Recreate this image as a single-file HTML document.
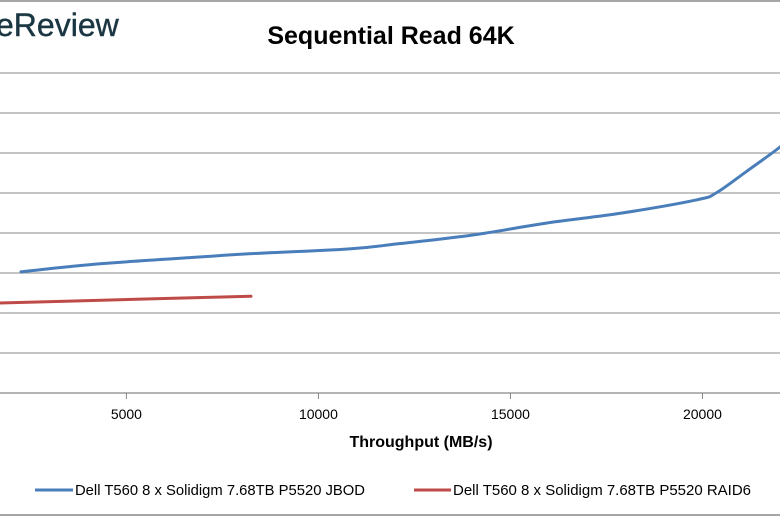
<!DOCTYPE html>
<html><head><meta charset="utf-8"><style>
html,body{margin:0;padding:0;background:#fff}
svg{display:block}
text{font-family:"Liberation Sans",sans-serif}
</style></head><body>
<svg id="chart" width="780" height="516" viewBox="0 0 780 516">
<rect x="0" y="0" width="780" height="516" fill="#fff"/>
<line x1="0" y1="1" x2="780" y2="1" stroke="#a6a6a6" stroke-width="2"/>
<line x1="0" y1="515" x2="780" y2="515" stroke="#a6a6a6" stroke-width="2"/>
<text x="-4" y="36" font-size="32" fill="#1a3642" stroke="#1a3642" stroke-width="0.4">eReview</text>
<text x="391" y="44" font-size="25" font-weight="bold" text-anchor="middle" fill="#000">Sequential Read 64K</text>
<g id="grid"></g>
<g id="xticks"></g>
<g id="series"></g>
<text x="421" y="447" font-size="16" font-weight="bold" text-anchor="middle">Throughput  (MB/s)</text>
<g>
<g>
<line x1="35" y1="490" x2="73" y2="490" stroke="#4a7ebb" stroke-width="3"/>
<text x="75" y="495" font-size="15" textLength="290" lengthAdjust="spacingAndGlyphs">Dell T560 8 x Solidigm 7.68TB P5520 JBOD</text>
</g>
<g>
<line x1="414" y1="490" x2="451" y2="490" stroke="#be4b48" stroke-width="3"/>
<text x="453" y="495" font-size="15" textLength="298" lengthAdjust="spacingAndGlyphs">Dell T560 8 x Solidigm 7.68TB P5520 RAID6</text>
</g>
</g>
</svg>
<script>
const xTicks = [5000, 10000, 15000, 20000];
const yGridValues = [0, 1, 2, 3, 4, 5, 6, 7, 8];
const jbodX = [2255, 4312, 6890, 8192, 10770, 12072, 14025, 15952, 17905, 19858, 20353, 21134, 22020, 22400];
const jbodY = [3.03, 3.23, 3.4, 3.48, 3.6, 3.73, 3.95, 4.25, 4.5, 4.83, 5.0, 5.53, 6.15, 6.5];
const raidX = [1000, 4000, 8244];
const raidY = [2.23, 2.31, 2.42];

const NS = "http://www.w3.org/2000/svg";
function sx(v){ return (v - 1708) / 26.04; }
function sy(v){ return 393 - v * 40; }

const grid = document.getElementById('grid');
yGridValues.forEach(v => {
  const l = document.createElementNS(NS, 'line');
  l.setAttribute('x1', 0); l.setAttribute('x2', 780);
  l.setAttribute('y1', sy(v)); l.setAttribute('y2', sy(v));
  l.setAttribute('stroke', v === 0 ? '#868686' : '#a0a0a0');
  l.setAttribute('stroke-width', 1.2);
  
  
  grid.appendChild(l);
});
const xt = document.getElementById('xticks');
xTicks.forEach(v => {
  const t = document.createElementNS(NS, 'line');
  t.setAttribute('x1', sx(v)); t.setAttribute('x2', sx(v));
  t.setAttribute('y1', sy(0)); t.setAttribute('y2', sy(0) + 6);
  t.setAttribute('stroke', '#868686');
  
  
  xt.appendChild(t);
  const lb = document.createElementNS(NS, 'text');
  lb.setAttribute('x', sx(v)); lb.setAttribute('y', 419);
  lb.setAttribute('font-size', '14'); lb.setAttribute('text-anchor', 'middle');
  lb.textContent = v;
  
  
  xt.appendChild(lb);
});
function smoothPath(xs, ys){
  const p = xs.map((x,i)=>[sx(x), sy(ys[i])]);
  let d = 'M' + p[0][0] + ',' + p[0][1];
  for (let i = 0; i < p.length - 1; i++) {
    const p0 = p[i-1] || p[i], p1 = p[i], p2 = p[i+1], p3 = p[i+2] || p2;
    const c1 = [p1[0] + (p2[0]-p0[0])/6, p1[1] + (p2[1]-p0[1])/6];
    const c2 = [p2[0] - (p3[0]-p1[0])/6, p2[1] - (p3[1]-p1[1])/6];
    d += ' C' + c1 + ' ' + c2 + ' ' + p2;
  }
  return d;
}
const series = document.getElementById('series');
const pj = document.createElementNS(NS, 'path');
pj.setAttribute('d', smoothPath(jbodX, jbodY));
pj.setAttribute('fill', 'none'); pj.setAttribute('stroke', '#4a7ebb');
pj.setAttribute('stroke-width', 3); pj.setAttribute('stroke-linecap', 'round');


series.appendChild(pj);
const pr = document.createElementNS(NS, 'path');
pr.setAttribute('d', smoothPath(raidX, raidY));
pr.setAttribute('fill', 'none'); pr.setAttribute('stroke', '#be4b48');
pr.setAttribute('stroke-width', 3); pr.setAttribute('stroke-linecap', 'round');


series.appendChild(pr);
</script>
</body></html>
